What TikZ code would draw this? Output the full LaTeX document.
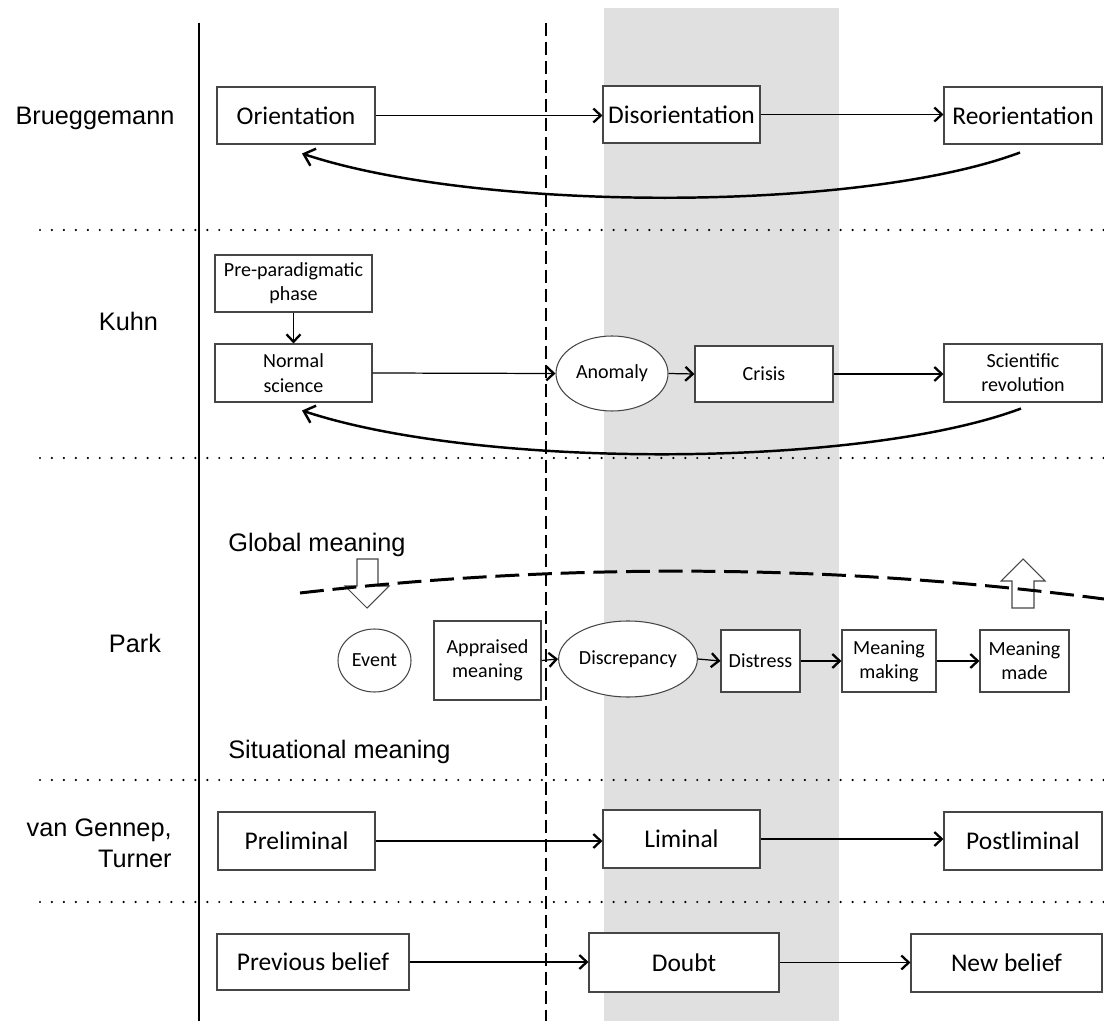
\documentclass[tikz,border=0pt]{standalone}
\usepackage{fontspec}
\setmainfont{Carlito}
\newfontfamily\sidefont{Liberation Sans}
\usetikzlibrary{positioning,arrows.meta,shapes.geometric}
\definecolor{bandgray}{RGB}{224,224,224}
\definecolor{boxline}{RGB}{70,70,70}

\begin{document}
\begin{tikzpicture}[
    box/.style={
        draw=boxline,
        line width=0.6pt,
        fill=white,
        inner sep=0pt,
        align=center,
        font=\fontsize{14.5}{17}\selectfont
    },
    smallbox/.style={
        box,
        font=\fontsize{11.4}{13.8}\selectfont
    },
    oval/.style={
        ellipse,
        draw=boxline,
        line width=0.6pt,
        fill=white,
        inner sep=0pt,
        font=\fontsize{11.4}{13.8}\selectfont
    },
    side/.style={
        inner sep=0pt,
        align=right,
        font=\sidefont\fontsize{14.4}{17.5}\selectfont
    },
    arr/.style={
        -{Straight Barb[length=1.5mm,width=2.8mm,line width=1.3pt]},
        line width=0.7pt
    },
    back/.style={
        -{Straight Barb[length=2mm,width=3.6mm]},
        line width=1.4pt
    },
    sep/.style={
        line width=1.4pt,
        dash pattern=on 0pt off 6.8pt,
        line cap=round
    }
]

\useasboundingbox (0,0) rectangle (22.08,-20.42);

% ============================================================
% BACKGROUND — BAND AND GRID LINES
% ============================================================

\fill[bandgray] (12.08,-0.16) rectangle (16.78,-20.42);

\draw[line width=1.4pt] (3.98,-0.46) -- (3.98,-20.42);
\draw[line width=1.4pt, dash pattern=on 7.4pt off 3.4pt] (10.92,-0.46) -- (10.92,-20.42);

\draw[sep] (0.8,-4.6) -- (22.08,-4.6);
\draw[sep] (0.8,-9.16) -- (22.08,-9.16);
\draw[sep] (0.8,-15.6) -- (22.08,-15.6);
\draw[sep] (0.8,-18.04) -- (22.08,-18.04);

% ============================================================
% ROW LABELS
% ============================================================

\node[side] (brueg) at (1.9,-2.36) {Brueggemann};
\node[side] (kuhn) at (2.57,-6.42) {Kuhn};
\node[side] (park) at (2.7,-12.86) {Park};
\node[side, anchor=east] (gennep) at (3.44,-16.86) {van Gennep,\\Turner};

% ============================================================
% BRUEGGEMANN
% ============================================================

\node[box, minimum width=3.16cm, minimum height=1.14cm] (orient) at (5.92,-2.31)
{Orientation};

\node[box, minimum width=3.14cm, minimum height=1.14cm] (disorient) at (13.63,-2.29)
{Disorientation};

\node[box, minimum width=3.16cm, minimum height=1.14cm] (reorient) at (20.46,-2.31)
{Reorientation};

\draw[arr] (orient.east) -- (orient.east -| disorient.west);
\draw[arr] (disorient.east) -- (disorient.east -| reorient.west);
\draw[back] ([xshift=-0.06cm,yshift=-0.16cm]reorient.south)
    .. controls +(-3.2,-1.2) and +(3.56,-1.18) .. ([xshift=0.12cm,yshift=-0.18cm]orient.south);

% ============================================================
% KUHN
% ============================================================

\node[smallbox, minimum width=3.14cm, minimum height=1.14cm] (prepara) at (5.87,-5.67)
{Pre-paradigmatic\\phase};

\node[smallbox, minimum width=3.14cm, minimum height=1.16cm] (normal) at (5.87,-7.46)
{Normal\\science};

\node[oval, minimum width=2.24cm, minimum height=1.5cm] (anomaly) at (12.24,-7.47)
{Anomaly};

\node[smallbox, minimum width=2.76cm, minimum height=1.12cm] (crisis) at (15.28,-7.48)
{Crisis};

\node[smallbox, minimum width=3.16cm, minimum height=1.16cm] (scirev) at (20.46,-7.46)
{Scientific\\revolution};

\draw[arr] (prepara.south) -- (normal.north);
\draw[arr] (normal.east) -- (anomaly.west);
\draw[arr] (anomaly.east) -- (crisis.west);
\draw[arr] (crisis.east) -- (crisis.east -| scirev.west);
\draw[back] ([xshift=-0.04cm,yshift=-0.12cm]scirev.south)
    .. controls +(-3.2,-1.2) and +(3.56,-1.18) .. ([xshift=0.17cm,yshift=-0.16cm]normal.south);

% ============================================================
% PARK
% ============================================================

\node[side, anchor=west] (global) at (4.56,-10.9) {Global meaning};
\node[side, anchor=west] (situ) at (4.56,-15.04) {Situational meaning};

\draw[boxline, line width=0.6pt, fill=white]
    (7.14,-11.18) -- (7.56,-11.18) -- (7.56,-11.72) -- (7.78,-11.72)
    -- (7.34,-12.16) -- (6.9,-11.72) -- (7.14,-11.72) -- cycle;
\draw[boxline, line width=0.6pt, fill=white]
    (20.24,-12.16) -- (20.68,-12.16) -- (20.68,-11.62) -- (20.9,-11.62)
    -- (20.46,-11.18) -- (20.02,-11.62) -- (20.24,-11.62) -- cycle;

\draw[line width=1.7pt, dash pattern=on 13.6pt off 5pt]
    (6.0,-11.86) .. controls (11.38,-11.24) and (16.74,-11.28) .. (22.08,-11.98);

\node[oval, minimum width=1.46cm, minimum height=1.26cm] (event) at (7.49,-13.21)
{Event};

\node[smallbox, minimum width=2.14cm, minimum height=1.58cm] (appraised) at (9.75,-13.21)
{Appraised\\meaning};

\node[oval, minimum width=2.24cm, minimum height=1.52cm] (discrep) at (12.56,-13.18)
{Discrepancy};

\node[smallbox, minimum width=1.58cm, minimum height=1.24cm] (distress) at (15.21,-13.22)
{Distress};

\node[smallbox, minimum width=1.88cm, minimum height=1.24cm] (mmaking) at (17.78,-13.22)
{Meaning\\making};

\node[smallbox, minimum width=1.78cm, minimum height=1.24cm] (mmade) at (20.49,-13.22)
{Meaning\\made};

\draw[arr] (appraised.east) -- (discrep.west);
\draw[arr] (discrep.east) -- (distress.west);
\draw[arr] (distress.east) -- (mmaking.west);
\draw[arr] (mmaking.east) -- (mmade.west);

% ============================================================
% VAN GENNEP, TURNER
% ============================================================

\node[box, minimum width=3.14cm, minimum height=1.16cm] (prelim) at (5.93,-16.82)
{Preliminal};

\node[box, minimum width=3.14cm, minimum height=1.16cm] (liminal) at (13.63,-16.78)
{Liminal};

\node[box, minimum width=3.16cm, minimum height=1.16cm] (postlim) at (20.46,-16.82)
{Postliminal};

\draw[arr] (prelim.east) -- (prelim.east -| liminal.west);
\draw[arr] (liminal.east) -- (liminal.east -| postlim.west);

% ============================================================
% BELIEF
% ============================================================

\node[box, minimum width=3.84cm, minimum height=1.12cm] (prevbelief) at (6.26,-19.24)
{Previous belief};

\node[box, minimum width=3.8cm, minimum height=1.18cm] (doubt) at (13.68,-19.25)
{Doubt};

\node[box, minimum width=3.82cm, minimum height=1.16cm] (newbelief) at (20.13,-19.26)
{New belief};

\draw[arr] (prevbelief.east) -- (prevbelief.east -| doubt.west);
\draw[arr] (doubt.east) -- (doubt.east -| newbelief.west);

\end{tikzpicture}
\end{document}
